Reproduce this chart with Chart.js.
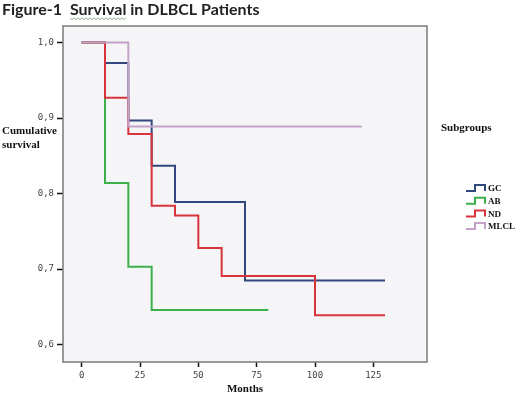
<!DOCTYPE html>
<html>
<head>
<meta charset="utf-8">
<script src="https://cdn.jsdelivr.net/npm/chart.js@4"></script>
<style>
  html, body { margin: 0; padding: 0; background: #fff; }
  #wrap { width: 520px; height: 396px; }
</style>
</head>
<body>
<div id="wrap"><canvas id="km"></canvas></div>
<script>
// Kaplan-Meier steps (months, cumulative survival)
const gcMonths = [0, 10, 20, 30, 40, 70, 130];
const gcSurv   = [1.0, 0.973, 0.897, 0.837, 0.789, 0.685, 0.685];
const abMonths = [0, 10, 20, 30, 80];
const abSurv   = [1.0, 0.814, 0.703, 0.646, 0.646];
const ndMonths = [0, 10, 20, 30, 40, 50, 60, 100, 130];
const ndSurv   = [1.0, 0.927, 0.879, 0.784, 0.771, 0.728, 0.691, 0.639, 0.639];
const mlMonths = [0, 20, 120];
const mlSurv   = [1.0, 0.889, 0.889];

const groupNames = ["GC", "AB", "ND", "MLCL"];
const xTicks = [0, 25, 50, 75, 100, 125];
const yTicks = [0.6, 0.7, 0.8, 0.9, 1.0];
const yTickLabels = ["0,6", "0,7", "0,8", "0,9", "1,0"];

const colors = ["#33477f", "#3cb04a", "#d7343c", "#c4a1c6"];

function pts(xs, ys) {
  return xs.map((x, i) => ({ x: x, y: ys[i] }));
}

const series = [
  pts(gcMonths, gcSurv),
  pts(abMonths, abSurv),
  pts(ndMonths, ndSurv),
  pts(mlMonths, mlSurv)
];
const drawOrder = [2, 3, 1, 0]; // MLCL on top, then ND

const serif = "'Liberation Serif', 'DejaVu Serif', serif";

const decor = {
  id: "decor",
  beforeDraw(chart) {
    const { ctx, chartArea: a } = chart;
    ctx.save();
    ctx.fillStyle = "#f5f5f7";
    ctx.fillRect(a.left, a.top, a.right - a.left, a.bottom - a.top);
    ctx.restore();
  },
  afterDatasetsDraw(chart) {
    const { ctx, chartArea: a } = chart;
    ctx.save();
    ctx.strokeStyle = "#7a7a7a";
    ctx.lineWidth = 1.5;
    ctx.strokeRect(a.left, a.top, a.right - a.left, a.bottom - a.top);
    ctx.restore();
  },
  afterDraw(chart) {
    const { ctx, chartArea: a } = chart;
    ctx.save();
    // title
    ctx.fillStyle = "#222";
    ctx.font = "bold 16px Lato, 'Open Sans', sans-serif";
    ctx.textBaseline = "alphabetic";
    ctx.textAlign = "left";
    const t1 = "Figure-1  ";
    ctx.fillText(t1 + "Survival in DLBCL Patients", 2, 15);
    const x0 = 2 + ctx.measureText(t1).width;
    const w = ctx.measureText("Survival").width;
    ctx.strokeStyle = "#8fae8f";
    ctx.lineWidth = 1;
    ctx.beginPath();
    for (let x = 0; x <= w; x += 2) {
      const y = 18 + ((x / 2) % 2 === 0 ? 0 : 1.5);
      if (x === 0) ctx.moveTo(x0 + x, y); else ctx.lineTo(x0 + x, y);
    }
    ctx.stroke();

    // axis titles
    ctx.fillStyle = "#111";
    ctx.font = "bold 11px " + serif;
    ctx.textBaseline = "middle";
    ctx.fillText("Cumulative", 2, 131);
    ctx.fillText("survival", 2, 145);
    ctx.textAlign = "center";
    ctx.fillText("Months", (a.left + a.right) / 2, 389);

    // legend
    ctx.textAlign = "left";
    ctx.fillText("Subgroups", 441, 128);
    ctx.font = "bold 9px " + serif;
    groupNames.forEach((name, i) => {
      const y = 188 + i * 12.7;
      const x = 466;
      ctx.strokeStyle = colors[i];
      ctx.lineWidth = 2;
      ctx.beginPath();
      ctx.moveTo(x, y + 3);
      ctx.lineTo(x + 9, y + 3);
      ctx.lineTo(x + 9, y - 3);
      ctx.lineTo(x + 19, y - 3);
      ctx.lineTo(x + 19, y + 3);
      ctx.stroke();
      ctx.fillStyle = "#111";
      ctx.fillText(name, x + 22, y + 1);
    });
    ctx.restore();
  }
};

new Chart(document.getElementById("km"), {
  type: "line",
  data: {
    datasets: series.map((d, i) => ({
      label: groupNames[i],
      data: d,
      stepped: "before",
      borderColor: colors[i],
      borderWidth: 2,
      pointRadius: 0,
      fill: false,
      order: drawOrder[i]
    }))
  },
  options: {
    responsive: true,
    maintainAspectRatio: false,
    animation: false,
    layout: { padding: { top: 26, right: 93, bottom: 0, left: 0 } },
    plugins: {
      legend: { display: false },
      title: { display: false },
      tooltip: { enabled: false }
    },
    scales: {
      x: {
        type: "linear",
        min: -8,
        max: 148,
        afterBuildTicks: s => { s.ticks = xTicks.map(v => ({ value: v })); },
        afterFit: s => { s.height = 34; },
        border: { display: false },
        grid: { drawOnChartArea: false, drawTicks: true, tickLength: 5, tickColor: "#111", tickWidth: 1.5 },
        ticks: {
          padding: 3,
          color: "#444",
          font: { family: "'DejaVu Sans Mono', monospace", size: 9 },
          callback: v => String(v)
        }
      },
      y: {
        type: "linear",
        min: 0.577,
        max: 1.022,
        afterBuildTicks: s => { s.ticks = yTicks.map(v => ({ value: v })); },
        afterFit: s => { s.width = 63; },
        border: { display: false },
        grid: { drawOnChartArea: false, drawTicks: true, tickLength: 6, tickColor: "#111", tickWidth: 1.5 },
        ticks: {
          padding: 3,
          color: "#444",
          font: { family: "'DejaVu Sans Mono', monospace", size: 9 },
          callback: (v, i) => yTickLabels[i]
        }
      }
    }
  },
  plugins: [decor]
});
</script>
</body>
</html>
